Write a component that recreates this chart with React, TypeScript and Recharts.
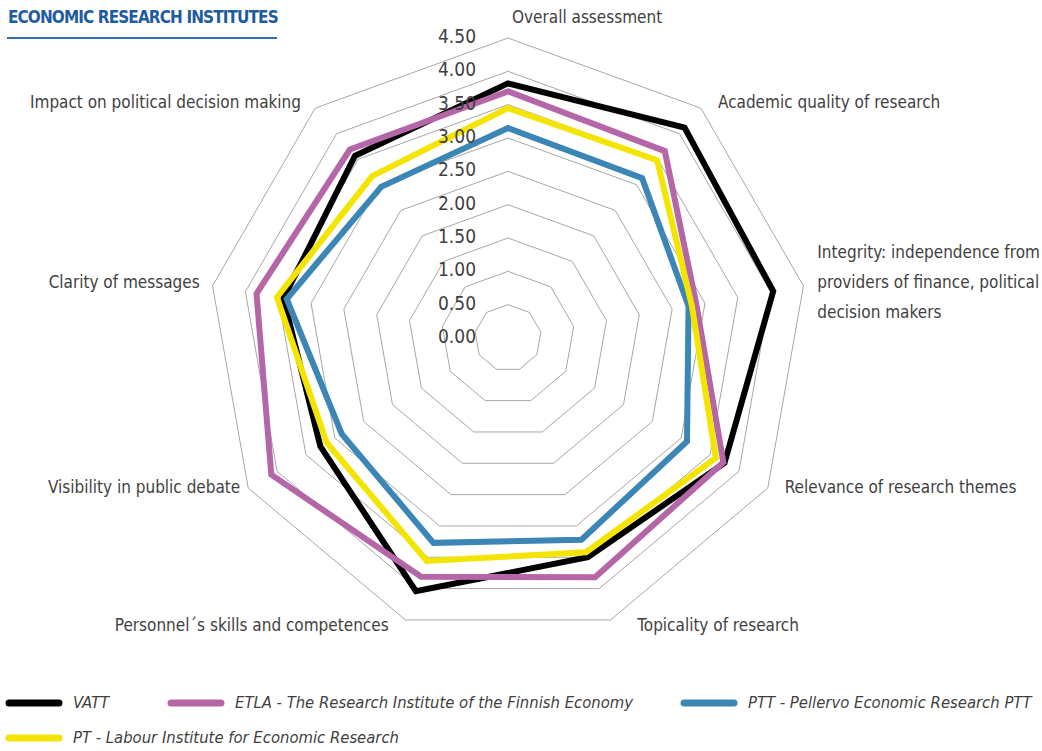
import React from "react";
import {
  RadarChart,
  Radar,
  PolarGrid,
  PolarAngleAxis,
  PolarRadiusAxis,
  Legend,
} from "recharts";

const categories = [
  "Overall assessment",
  "Academic quality of research",
  "Integrity: independence from\nproviders of finance, political\ndecision makers",
  "Relevance of research themes",
  "Topicality of research",
  "Personnel´s skills and competences",
  "Visibility in public debate",
  "Clarity of messages",
  "Impact on political decision making",
];

const radiusTicks = [0, 0.5, 1, 1.5, 2, 2.5, 3, 3.5, 4, 4.5];

const vatt = [3.82, 4.12, 4.04, 3.75, 3.5, 4.04, 3.25, 3.42, 3.57];
const etla = [3.7, 3.66, 2.87, 3.73, 3.82, 3.81, 4.1, 3.83, 3.69];
const ptt = [3.15, 3.13, 2.75, 3.1, 3.22, 3.27, 2.88, 3.37, 2.96];
const pt = [3.45, 3.48, 2.8, 3.6, 3.42, 3.56, 3.14, 3.52, 3.17];

const seriesNames = [
  "VATT",
  "ETLA - The Research Institute of the Finnish Economy",
  "PTT - Pellervo Economic Research PTT",
  "PT - Labour Institute for Economic Research",
];
const seriesColors = ["#000000", "#b566a6", "#3b86b4", "#f4e500"];

const data = categories.map((axis, i) => ({
  axis,
  vatt: vatt[i],
  etla: etla[i],
  ptt: ptt[i],
  pt: pt[i],
}));

const FONT = "'DejaVu Sans', sans-serif";
const TEXT = "#3f3f3f";
const condensed = { fontStretch: "condensed" } as React.CSSProperties;

// nudges for the category labels, left/right of each spoke
const labelOffsets = [
  [4, -13, "start"],
  [12, 0, "start"],
  [6, -3, "start"],
  [10, -5, "start"],
  [24, -2, "start"],
  [-14, -2, "end"],
  [-1, -5, "end"],
  [-5, -3, "end"],
  [-9, 0, "end"],
];

const AngleTick = (props: any) => {
  const { x, y, payload, index } = props;
  const [dx, dy, anchor] = labelOffsets[index] as [number, number, string];
  const lines = String(payload.value).split("\n");
  const lh = 30;
  const top = y + dy - ((lines.length - 1) * lh) / 2;
  return (
    <text
      x={x + dx}
      y={top}
      textAnchor={anchor as any}
      fill={TEXT}
      fontSize={17}
      fontFamily={FONT}
      style={condensed}
      dominantBaseline="central"
    >
      {lines.map((l, i) => (
        <tspan key={i} x={x + dx} y={top + i * lh}>
          {l}
        </tspan>
      ))}
    </text>
  );
};

const RadiusTick = (props: any) => {
  const { x, y, payload } = props;
  return (
    <text
      x={x - 32}
      y={y - 2}
      textAnchor="end"
      dominantBaseline="central"
      fill={TEXT}
      fontSize={19}
      fontFamily={FONT}
      style={condensed}
    >
      {Number(payload.value).toFixed(2)}
    </text>
  );
};

const legendWidths = [162, 513, 362, 400];

const LegendContent = () => (
  <div style={{ display: "flex", flexWrap: "wrap", width: 1042 }}>
    {seriesNames.map((name, i) => (
      <div
        key={name}
        style={{
          width: legendWidths[i],
          height: 35,
          display: "flex",
          alignItems: "center",
          paddingLeft: 5,
          boxSizing: "border-box",
        }}
      >
        <svg width={58} height={10} style={{ flex: "none" }}>
          <line
            x1={4}
            y1={5}
            x2={54}
            y2={5}
            stroke={seriesColors[i]}
            strokeWidth={7}
            strokeLinecap="round"
          />
        </svg>
        <span
          style={{
            marginLeft: 10,
            fontFamily: FONT,
            fontStretch: "condensed",
            fontStyle: "italic",
            fontSize: 16.5,
            color: TEXT,
            whiteSpace: "nowrap",
          }}
        >
          {name}
        </span>
      </div>
    ))}
  </div>
);

export default function App() {
  return (
    <div style={{ position: "absolute", left: 0, top: 0, width: 1042, height: 751, background: "#fff" }}>
      <div
        style={{
          position: "absolute",
          left: 8,
          top: 7,
          fontFamily: FONT,
          fontStretch: "condensed",
          fontWeight: "bold",
          fontSize: 17,
          letterSpacing: -0.9,
          color: "#1f5c9e",
          whiteSpace: "nowrap",
        }}
      >
        ECONOMIC RESEARCH INSTITUTES
      </div>
      <div
        style={{
          position: "absolute",
          left: 7,
          top: 37,
          width: 270,
          height: 2,
          background: "#2f6fb0",
        }}
      />
      <RadarChart
        width={1042}
        height={751}
        data={data}
        cx={508}
        cy={338}
        outerRadius={300}
        margin={{ top: 0, right: 0, bottom: 0, left: 0 }}
      >
        <PolarGrid gridType="polygon" radialLines={false} stroke="#a6a6a6" strokeWidth={1} />
        <PolarAngleAxis dataKey="axis" tick={<AngleTick />} tickLine={false} axisLine={false} />
        {[
          ["vatt", 0],
          ["etla", 1],
          ["ptt", 2],
          ["pt", 3],
        ].map(([key, i]) => (
          <Radar
            key={key as string}
            name={seriesNames[i as number]}
            dataKey={key as string}
            stroke={seriesColors[i as number]}
            strokeWidth={6}
            fill="none"
            fillOpacity={0}
            dot={false}
            isAnimationActive={false}
          />
        ))}
        <PolarRadiusAxis
          angle={90}
          type="number"
          domain={[0, 4.5]}
          ticks={radiusTicks as any}
          tickCount={10}
          allowDecimals
          allowDataOverflow
          axisLine={false}
          tickLine={false}
          tick={<RadiusTick />}
        />
        <Legend
          content={<LegendContent />}
          wrapperStyle={{ position: "absolute", left: 0, top: 685, width: 1042 }}
        />
      </RadarChart>
    </div>
  );
}
